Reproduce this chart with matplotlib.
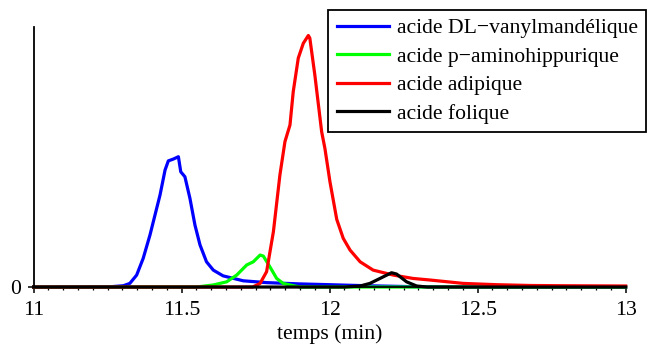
import numpy as np
import matplotlib
matplotlib.use('Agg')
import matplotlib.pyplot as plt
from matplotlib.ticker import MultipleLocator

plt.rcParams['font.family'] = ['Liberation Serif', 'DejaVu Serif']
plt.rcParams['font.size'] = 15.6

# temps (min) / signal (normalised)
t_vanyl = [11.0, 11.258, 11.303, 11.325, 11.348, 11.37, 11.393, 11.41, 11.427, 11.444, 11.455,
           11.472, 11.489, 11.497, 11.511, 11.528, 11.545, 11.562, 11.584, 11.607, 11.64,
           11.708, 11.787, 11.9, 12.0, 12.125, 12.3, 12.5, 13.0]
y_vanyl = [0.0, 0.001, 0.005, 0.014, 0.046, 0.11, 0.2, 0.277, 0.354, 0.45, 0.485,
           0.492, 0.501, 0.443, 0.424, 0.341, 0.238, 0.162, 0.097, 0.065, 0.043,
           0.024, 0.017, 0.012, 0.009, 0.005, 0.001, 0.0, 0.0]

t_amino = [11.0, 11.55, 11.607, 11.652, 11.686, 11.72, 11.742, 11.765, 11.776, 11.798,
           11.821, 11.843, 11.866, 11.9, 13.0]
y_amino = [0.0, 0.0, 0.008, 0.02, 0.046, 0.085, 0.097, 0.123, 0.119, 0.078,
           0.033, 0.014, 0.008, 0.0, 0.0]

t_adip = [11.0, 11.74, 11.765, 11.787, 11.81, 11.832, 11.849, 11.866, 11.877, 11.894,
          11.911, 11.928, 11.933, 11.95, 11.973, 11.984, 12.001, 12.024, 12.046, 12.069,
          12.103, 12.147, 12.215, 12.282, 12.339, 12.451, 12.564, 12.677, 12.79, 13.0]
y_adip = [0.0, 0.0, 0.014, 0.059, 0.213, 0.431, 0.559, 0.623, 0.751, 0.88,
          0.937, 0.967, 0.957, 0.815, 0.597, 0.533, 0.405, 0.26, 0.187, 0.142,
          0.097, 0.065, 0.046, 0.033, 0.027, 0.014, 0.009, 0.006, 0.005, 0.004]

t_folic = [11.0, 12.05, 12.103, 12.136, 12.17, 12.209, 12.226, 12.26, 12.294, 12.33, 13.0]
y_folic = [0.0, 0.0, 0.004, 0.014, 0.033, 0.055, 0.05, 0.02, 0.004, 0.0, 0.0]

labels = ['acide DL\u2212vanylmand\u00e9lique', 'acide p\u2212aminohippurique',
          'acide adipique', 'acide folique']


def main():
    fig = plt.figure(figsize=(6.47, 3.45), dpi=100)
    ax = fig.add_axes([0.052, 0.168, 0.915, 0.754])

    lw = 2.3
    ax.plot(t_vanyl, y_vanyl, color='#0000ff', lw=lw, label=labels[0], clip_on=False)
    ax.plot(t_amino, y_amino, color='#00ff00', lw=lw, label=labels[1], clip_on=False)
    ax.plot(t_adip, y_adip, color='#ff0000', lw=lw, label=labels[2], clip_on=False)
    ax.plot(t_folic, y_folic, color='black', lw=lw, label=labels[3], clip_on=False)

    ax.set_xlim(11, 13)
    ax.set_ylim(0, 1)
    ax.set_yticks([0])
    ax.xaxis.set_minor_locator(MultipleLocator(0.05))
    ax.set_xticks([11, 11.5, 12, 12.5, 13])
    ax.set_xticklabels(['11', '11.5', '12', '12.5', '13'])
    ax.tick_params(axis='x', which='major', length=4, width=1.1, direction='out', pad=6)
    ax.tick_params(axis='y', which='major', length=4, width=1.1, direction='out', pad=5)
    ax.tick_params(axis='x', which='minor', length=2.2, width=0.9, direction='out')
    for s in ['top', 'right']:
        ax.spines[s].set_visible(False)
    for s in ['left', 'bottom']:
        ax.spines[s].set_linewidth(1.3)

    ax.set_xlabel('temps (min)', labelpad=3)

    leg = ax.legend(loc='upper right', bbox_to_anchor=(0.999, 0.972),
                    bbox_transform=fig.transFigure, borderaxespad=0,
                    fancybox=False, edgecolor='black', framealpha=1,
                    handlelength=2.4, handletextpad=0.35, labelspacing=0.38,
                    borderpad=0.4)
    leg.get_frame().set_linewidth(1.3)

    fig.savefig('out.png', dpi=100)


if __name__ == '__main__':
    main()
